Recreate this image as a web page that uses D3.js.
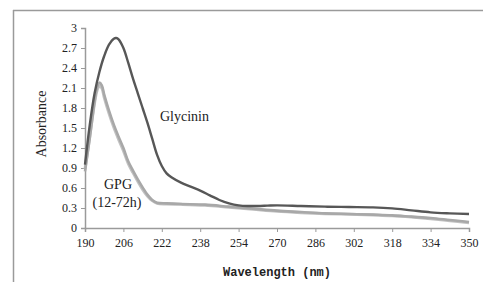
<!DOCTYPE html>
<html>
<head>
<meta charset="utf-8">
<script src="https://cdn.jsdelivr.net/npm/d3@7"></script>
<style>
  body { margin: 0; background: #fff; }
  svg { display: block; }
</style>
</head>
<body>
<svg id="chart" width="483" height="282"></svg>
<script>
// wavelengths (nm) and absorbance values
var glyWave = [190, 192, 194, 196, 198, 200, 202, 203, 204, 206, 208, 210, 212, 214, 216, 218, 220, 222, 224, 226, 230, 234, 238, 242, 246, 250, 254, 258, 262, 266, 270, 280, 290, 300, 310, 318, 326, 334, 342, 350]
var glyAbs = [0.95, 1.55, 2.02, 2.34, 2.58, 2.75, 2.84, 2.85, 2.83, 2.7, 2.48, 2.24, 2.02, 1.8, 1.58, 1.34, 1.1, 0.93, 0.82, 0.76, 0.68, 0.62, 0.56, 0.49, 0.42, 0.37, 0.34, 0.33, 0.33, 0.335, 0.34, 0.33, 0.32, 0.315, 0.31, 0.295, 0.265, 0.235, 0.22, 0.21]

var gpgWave = [190, 192, 194, 195, 196, 197, 198, 200, 202, 204, 206, 208, 210, 212, 214, 216, 218, 220, 224, 230, 240, 250, 260, 270, 280, 290, 300, 310, 318, 326, 334, 342, 350]
var gpg12Abs = [0.85, 1.35, 1.9, 2.1, 2.18, 2.14, 2.0, 1.76, 1.55, 1.37, 1.2, 1.0, 0.86, 0.73, 0.61, 0.5, 0.42, 0.38, 0.37, 0.36, 0.35, 0.32, 0.29, 0.26, 0.24, 0.22, 0.21, 0.2, 0.19, 0.17, 0.15, 0.12, 0.09]
var gpg72Abs = [0.88, 1.38, 1.88, 2.06, 2.13, 2.1, 1.96, 1.72, 1.51, 1.33, 1.16, 0.97, 0.83, 0.7, 0.58, 0.48, 0.41, 0.37, 0.36, 0.355, 0.34, 0.31, 0.28, 0.25, 0.23, 0.215, 0.205, 0.195, 0.185, 0.165, 0.14, 0.11, 0.08]

var xTicks = [190, 206, 222, 238, 254, 270, 286, 302, 318, 334, 350]
var yTicks = [0, 0.3, 0.6, 0.9, 1.2, 1.5, 1.8, 2.1, 2.4, 2.7, 3]

const svg = d3.select('#chart')

// outer frame (top and left only visible)
svg.append('line')
    .attr('x1', 13).attr('y1', 10.5).attr('x2', 483).attr('y2', 10.5)
    .attr('stroke', '#9a9a9a').attr('stroke-width', 1.5)
svg.append('line')
    .attr('x1', 13.5).attr('y1', 10).attr('x2', 13.5).attr('y2', 282)
    .attr('stroke', '#9a9a9a').attr('stroke-width', 1.5)

const x = d3.scaleLinear().domain([190, 350]).range([85, 469])
const y = d3.scaleLinear().domain([0, 3]).range([228, 28])

const xAxis = svg.append('g')
    .attr('transform', 'translate(0,228)')
    .call(d3.axisBottom(x).tickValues(xTicks).tickSize(4).tickFormat(d3.format('d')))
const yAxis = svg.append('g')
    .attr('transform', 'translate(85,0)')
    .call(d3.axisLeft(y).tickValues(yTicks).tickSize(4).tickFormat(d => d))

;[xAxis, yAxis].forEach(function(ax) {
    ax.attr('font-family', '"Liberation Serif", serif').attr('font-size', 12)
    ax.select('.domain').attr('stroke', '#9a9a9a').attr('stroke-width', 1.5)
    ax.selectAll('.tick line').attr('stroke', '#9a9a9a')
    ax.selectAll('.tick text').attr('fill', '#222')
})
xAxis.selectAll('.tick text').attr('dy', '0.95em').attr('y', 8)
yAxis.selectAll('.tick text').attr('x', -8)

const line = d3.line()
    .x(d => x(d[0]))
    .y(d => y(d[1]))
    .curve(d3.curveCatmullRom.alpha(0.5))

// GPG 12h / 72h (light gray, overlapping)
svg.append('path')
    .datum(d3.zip(gpgWave, gpg72Abs))
    .attr('d', line)
    .attr('fill', 'none')
    .attr('stroke', '#c2c2c2')
    .attr('stroke-width', 3)
svg.append('path')
    .datum(d3.zip(gpgWave, gpg12Abs))
    .attr('d', line)
    .attr('fill', 'none')
    .attr('stroke', '#a8a8a8')
    .attr('stroke-width', 2.6)

// Glycinin (dark gray)
svg.append('path')
    .datum(d3.zip(glyWave, glyAbs))
    .attr('d', line)
    .attr('fill', 'none')
    .attr('stroke', '#575757')
    .attr('stroke-width', 2.4)

// in-plot labels
svg.append('text')
    .attr('x', 160).attr('y', 121)
    .style('font-family', '"Liberation Serif", serif')
    .style('font-size', '14px')
    .attr('fill', '#222')
    .text('Glycinin')
svg.append('text')
    .attr('x', 118).attr('y', 189)
    .attr('text-anchor', 'middle')
    .style('font-family', '"Liberation Serif", serif')
    .style('font-size', '14px')
    .attr('fill', '#222')
    .text('GPG')
svg.append('text')
    .attr('x', 117).attr('y', 207)
    .attr('text-anchor', 'middle')
    .style('font-family', '"Liberation Serif", serif')
    .style('font-size', '14px')
    .attr('fill', '#222')
    .text('(12-72h)')

// axis titles
svg.append('text')
    .attr('x', 277).attr('y', 276)
    .attr('text-anchor', 'middle')
    .style('font-family', '"Liberation Mono", monospace')
    .style('font-size', '12px')
    .style('font-weight', 'bold')
    .attr('fill', '#222')
    .text('Wavelength (nm)')
svg.append('text')
    .attr('transform', 'translate(46,124) rotate(-90)')
    .attr('text-anchor', 'middle')
    .style('font-family', '"Liberation Serif", serif')
    .style('font-size', '14px')
    .attr('fill', '#222')
    .text('Absorbance')
</script>
</body>
</html>
